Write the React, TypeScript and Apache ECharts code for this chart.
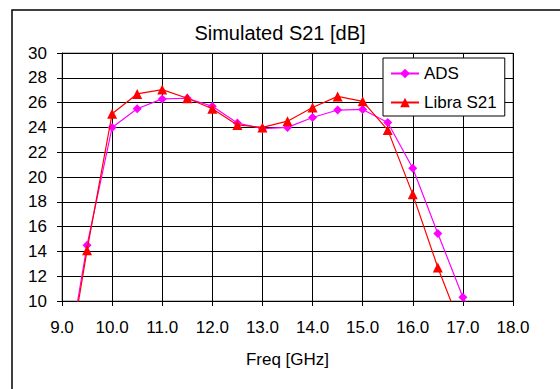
import React, { useEffect, useRef } from "react";
import * as echarts from "echarts";

const freq = [9.0, 9.5, 10.0, 10.5, 11.0, 11.5, 12.0, 12.5, 13.0, 13.5, 14.0, 14.5, 15.0, 15.5, 16.0, 16.5, 17.0, 17.5];
const ads = [2.5, 14.5, 24.0, 25.5, 26.3, 26.35, 25.7, 24.35, 23.9, 24.0, 24.8, 25.4, 25.45, 24.4, 20.7, 15.45, 10.3, 6.5];
const libra = [2.0, 14.1, 25.1, 26.7, 27.05, 26.35, 25.5, 24.2, 24.0, 24.5, 25.6, 26.5, 26.1, 23.8, 18.6, 12.7, 7.5, null];

const FONT = "'Liberation Sans', Arial, sans-serif";

export default function App() {
  const ref = useRef<HTMLDivElement>(null);
  useEffect(() => {
    const chart = echarts.init(ref.current!, undefined, { renderer: "svg" });
    const pair = (ys: (number | null)[]) => freq.map((f, i) => [f, ys[i]]);
    chart.setOption({
      animation: false,
      backgroundColor: "#fff",
      title: {
        text: "Simulated S21 [dB]",
        left: "center",
        top: 18,
        textStyle: { fontFamily: FONT, fontSize: 20, fontWeight: "normal", color: "#000" },
      },
      graphic: [
        {
          type: "rect",
          shape: { x: 12, y: 10, width: 560, height: 400 },
          style: { fill: "none", stroke: "#000", lineWidth: 1.5 },
          silent: true,
        },
      ],
      legend: {
        left: 383,
        top: 58,
        orient: "vertical",
        itemWidth: 28,
        itemHeight: 12,
        itemGap: 12,
        padding: [7, 8, 5, 7],
        borderColor: "#000",
        borderWidth: 1,
        backgroundColor: "#fff",
        textStyle: { fontFamily: FONT, fontSize: 17, color: "#000" },
        data: ["ADS", "Libra S21"],
      },
      grid: {
        left: 62,
        right: 47,
        top: 53,
        bottom: 88,
        show: true,
        borderColor: "#808080",
        borderWidth: 1,
      },
      xAxis: {
        type: "value",
        min: 9,
        max: 18,
        interval: 1,
        name: "Freq [GHz]",
        nameLocation: "middle",
        nameGap: 50,
        nameTextStyle: { fontFamily: FONT, fontSize: 17, color: "#000" },
        axisLine: { show: true, onZero: false, lineStyle: { color: "#000", width: 1 } },
        axisTick: { show: true, length: 5, lineStyle: { color: "#000" } },
        axisLabel: {
          fontFamily: FONT,
          fontSize: 17,
          color: "#000",
          margin: 18,
          formatter: (v: number) => v.toFixed(1),
        },
        splitLine: { show: true, lineStyle: { color: "#000", width: 1 } },
      },
      yAxis: {
        type: "value",
        min: 10,
        max: 30,
        interval: 2,
        axisLine: { show: true, lineStyle: { color: "#000", width: 1 } },
        axisTick: { show: true, length: 5, lineStyle: { color: "#000" } },
        axisLabel: { fontFamily: FONT, fontSize: 17, color: "#000", margin: 15 },
        splitLine: { show: true, lineStyle: { color: "#000", width: 1 } },
      },
      series: [
        {
          name: "ADS",
          type: "line",
          data: pair(ads),
          clip: true,
          symbol: "diamond",
          symbolSize: 9,
          lineStyle: { color: "#FF00FF", width: 1.2 },
          itemStyle: { color: "#FF00FF" },
          z: 3,
        },
        {
          name: "Libra S21",
          type: "line",
          data: pair(libra),
          clip: true,
          symbol: "triangle",
          symbolSize: 10,
          lineStyle: { color: "#FF0000", width: 1.2 },
          itemStyle: { color: "#FF0000" },
          z: 4,
        },
      ],
    });
    return () => chart.dispose();
  }, []);
  return (
    <div
      ref={ref}
      style={{ position: "fixed", left: 0, top: 0, width: 560, height: 389 }}
    />
  );
}
